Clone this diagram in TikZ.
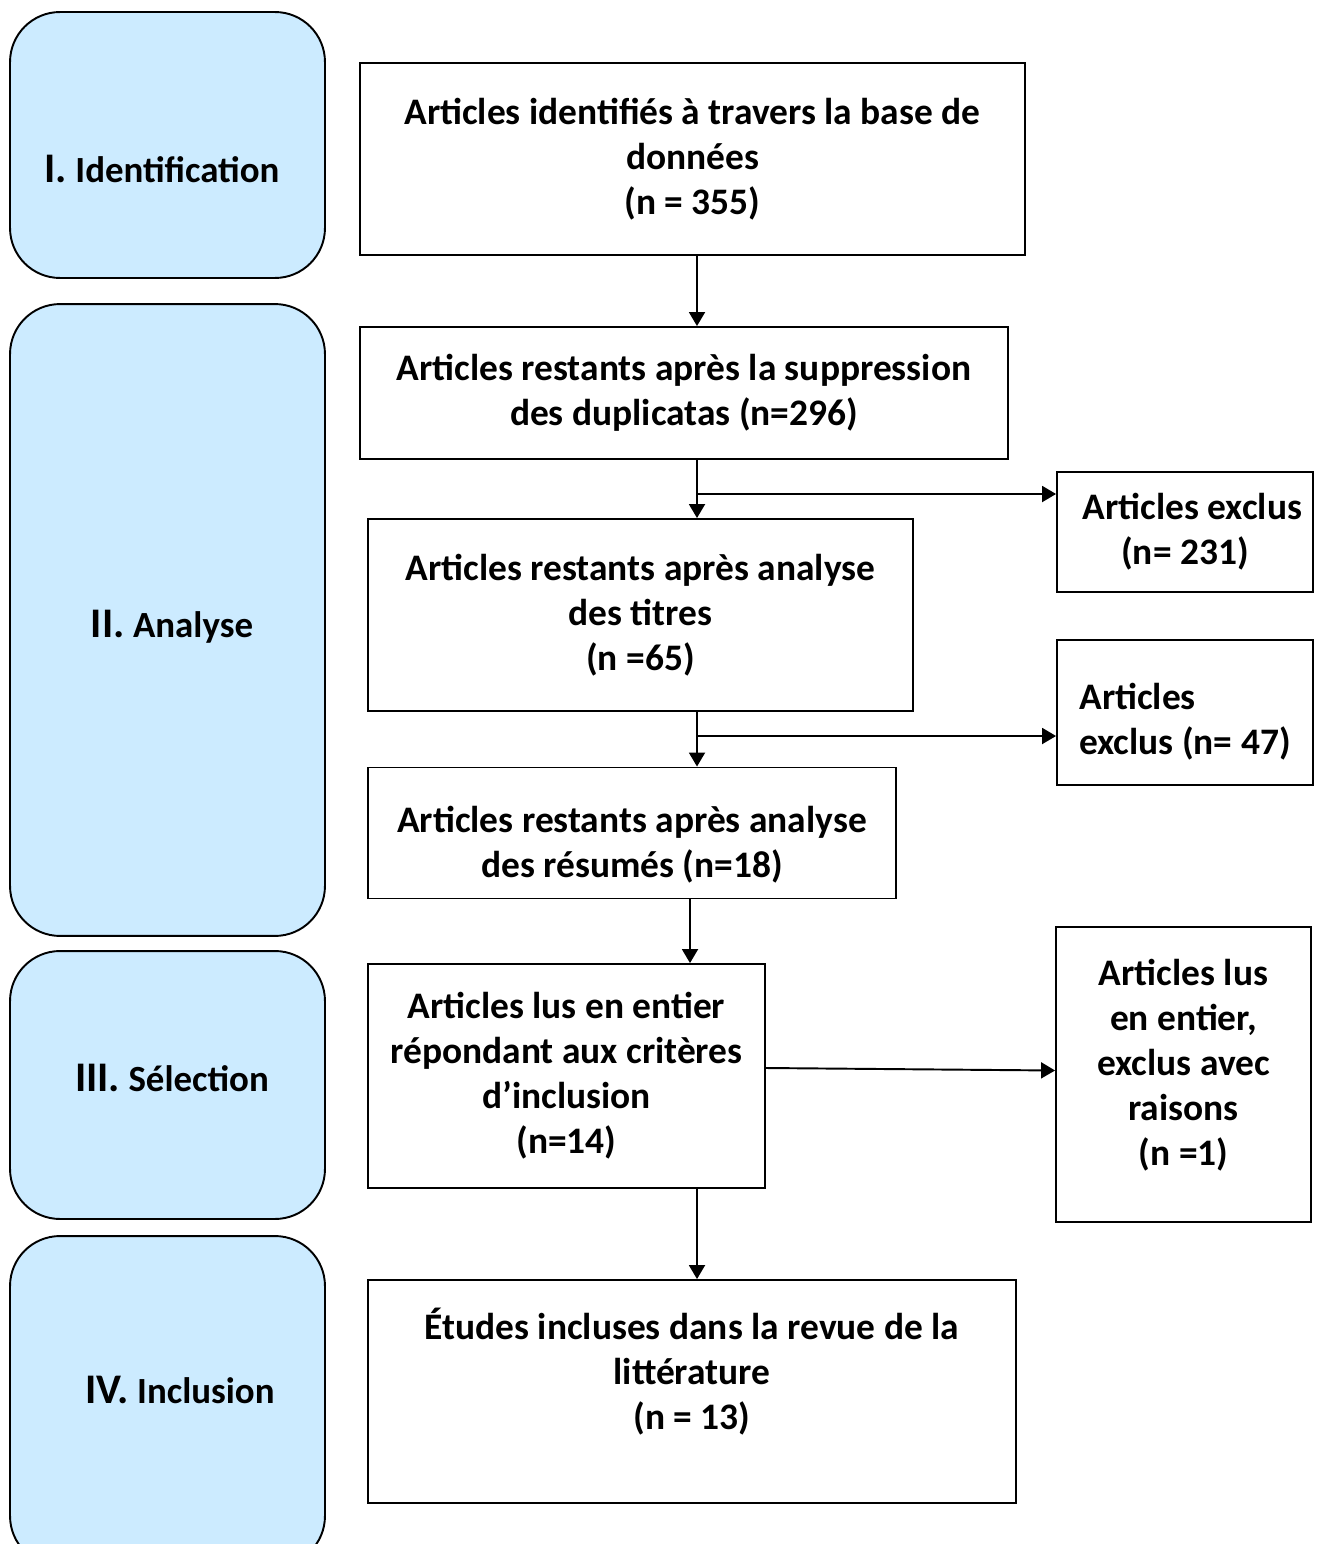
\documentclass[tikz,border=0pt]{standalone}
\usepackage{fontspec}
\setmainfont{Carlito}
\usepackage{xcolor}
\usepackage{tikz}
\usetikzlibrary{arrows.meta,positioning,calc}
\definecolor{stageblue}{HTML}{CCEBFF}
\newcommand{\stagenum}[1]{{\fontsize{24}{28}\selectfont #1}}
\newcommand{\lowerby}[1]{\rule{0pt}{#1}}

\begin{document}
\begin{tikzpicture}[
  x=0.02cm, y=-0.02cm,
  block/.style={draw, line width=1.1pt, align=center, inner sep=2pt,
    font=\bfseries\fontsize{21.3}{25.6}\selectfont},
  stage/.style={draw, line width=1.1pt, fill=stageblue, rounded corners=1cm,
    minimum width=6.3cm},
  stagetxt/.style={font=\bfseries\fontsize{21}{25.6}\selectfont},
  arrow/.style={-{Triangle[length=0.28cm, width=0.32cm]}, line width=1.1pt}
]
  \useasboundingbox (0,0) rectangle (1320,1544);
  \clip (0,0) rectangle (1320,1544);

  % Stages on the left
  \node[stage, minimum height=5.32cm] (s1) at (167.5,145) {};
  \node[stage, minimum height=12.64cm] (s2) at (167.5,620) {};
  \node[stage, minimum height=5.36cm] (s3) at (167.5,1085) {};
  \node[stage, minimum height=6.6cm] (s4) at (167.5,1401) {};
  \node[stagetxt] (s1txt) at (162,169) {\stagenum{I.} Identification};
  \node[stagetxt] (s2txt) at (172,627) {\stagenum{II.} Analyse};
  \node[stagetxt] (s3txt) at (172,1078) {\stagenum{III.} Sélection};
  \node[stagetxt] (s4txt) at (180,1390) {\stagenum{IV.} Inclusion};

  % Main flow
  \node[block, minimum width=13.3cm, minimum height=3.84cm] (ident) at (692.5,159)
    {Articles identifiés à travers la base de\\données\\(n = 355)};
  \node[block, minimum width=12.96cm, minimum height=2.64cm] (dupl) at (684,393)
    {Articles restants après la suppression\\des duplicatas (n=296)};
  \node[block, minimum width=10.9cm, minimum height=3.84cm] (titres) at (640.5,615)
    {Articles restants après analyse\\des titres\\(n =65)};
  \node[block, minimum width=10.56cm, minimum height=2.62cm] (resumes) at (632,833)
    {\lowerby{1.0cm}Articles restants après analyse\\des résumés (n=18)};
  \node[block, minimum width=7.94cm, minimum height=4.48cm] (lus) at (566.5,1076)
    {Articles lus en entier\\répondant aux critères\\d’inclusion\\(n=14)};
  \node[block, minimum width=12.96cm, minimum height=4.46cm] (etudes) at (692,1391.5)
    {Études incluses dans la revue de la\\littérature\\(n = 13)\\\mbox{}};

  % Exclusions on the right
  \node[block, minimum width=5.12cm, minimum height=2.4cm] (excl1) at (1185,532)
    {\hspace*{0.3cm}Articles exclus\\(n= 231)};
  \node[block, align=left, minimum width=5.12cm, minimum height=2.9cm] (excl2) at (1185,712.5)
    {\lowerby{0.89cm}Articles\\exclus (n= 47)};
  \node[block, minimum width=5.1cm, minimum height=5.9cm] (excl3) at (1183.5,1074.5)
    {\lowerby{0.93cm}Articles lus\\en entier,\\exclus avec\\raisons\\(n =1)\\\mbox{}};

  % Arrows
  \coordinate (spine) at (697,0);
  \coordinate (spine2) at (690,0);
  \coordinate (j1) at (697,494);
  \coordinate (j2) at (697,736);
  \draw[arrow] (ident.south -| spine) -- (dupl.north -| spine);
  \draw[arrow] (dupl.south -| spine) -- (titres.north -| spine);
  \draw[arrow] (j1) -- (j1 -| excl1.west);
  \draw[arrow] (titres.south -| spine) -- (resumes.north -| spine);
  \draw[arrow] (j2) -- (j2 -| excl2.west);
  \draw[arrow] (resumes.south -| spine2) -- (lus.north -| spine2);
  \draw[arrow] ([yshift=0.16cm]lus.east) -- ([yshift=0.08cm]excl3.west);
  \draw[arrow] (lus.south -| spine) -- (etudes.north -| spine);
\end{tikzpicture}
\end{document}
